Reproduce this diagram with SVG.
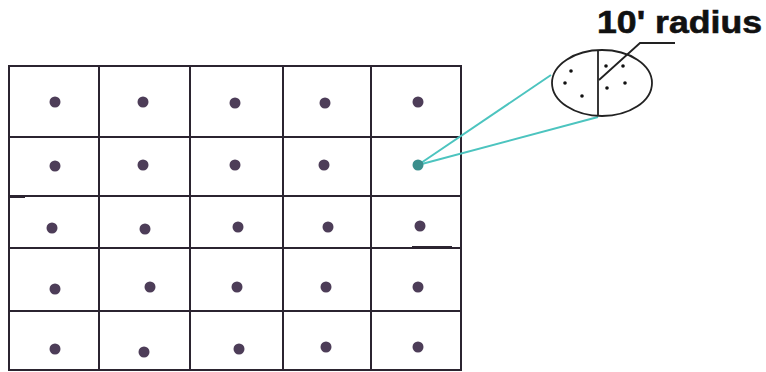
<svg xmlns="http://www.w3.org/2000/svg" width="766" height="372" viewBox="0 0 766 372">
<style>
.g{stroke:#2b2430;stroke-width:2;fill:none}
.d{fill:#4d3d58}
.t{stroke:#4cc4bf;stroke-width:2;fill:none}
.k{stroke:#222;stroke-width:1.8;fill:none}
.s{fill:#111}
.lbl{font-family:"Liberation Sans",Arial,sans-serif;font-weight:bold;font-size:31px;fill:#111;stroke:#111;stroke-width:0.6}
</style>
<rect width="766" height="372" fill="#fff"/>
<g id="grid">
<rect class="g" x="9" y="66" width="452" height="304"/>
<line class="g" x1="99" y1="66" x2="99" y2="370"/>
<line class="g" x1="190" y1="66" x2="190" y2="370"/>
<line class="g" x1="283" y1="66" x2="283" y2="370"/>
<line class="g" x1="371" y1="66" x2="371" y2="370"/>
<line class="g" x1="9" y1="137" x2="461" y2="137"/>
<line class="g" x1="9" y1="196" x2="461" y2="196"/>
<line class="g" x1="9" y1="248" x2="461" y2="248"/>
<line class="g" x1="9" y1="311" x2="461" y2="311"/>
<line class="g" x1="9" y1="197" x2="25" y2="197"/>
<line class="g" x1="412" y1="247" x2="452" y2="247"/>
</g>
<g id="dots">
<circle class="d" cx="55" cy="102" r="5.5"/><circle class="d" cx="143" cy="102" r="5.5"/><circle class="d" cx="235" cy="103" r="5.5"/><circle class="d" cx="325" cy="103" r="5.5"/><circle class="d" cx="418" cy="102" r="5.5"/>
<circle class="d" cx="55" cy="166" r="5.5"/><circle class="d" cx="143" cy="165" r="5.5"/><circle class="d" cx="235" cy="165" r="5.5"/><circle class="d" cx="324" cy="165" r="5.5"/>
<circle class="d" cx="52" cy="228" r="5.5"/><circle class="d" cx="145" cy="229" r="5.5"/><circle class="d" cx="238" cy="227" r="5.5"/><circle class="d" cx="328" cy="227" r="5.5"/><circle class="d" cx="420" cy="226" r="5.5"/>
<circle class="d" cx="55" cy="289" r="5.5"/><circle class="d" cx="150" cy="287" r="5.5"/><circle class="d" cx="237" cy="287" r="5.5"/><circle class="d" cx="326" cy="287" r="5.5"/><circle class="d" cx="418" cy="287" r="5.5"/>
<circle class="d" cx="55" cy="349" r="5.5"/><circle class="d" cx="144" cy="352" r="5.5"/><circle class="d" cx="239" cy="349" r="5.5"/><circle class="d" cx="326" cy="347" r="5.5"/><circle class="d" cx="418" cy="347" r="5.5"/>
</g>
<g id="connectors">
<line class="t" x1="418" y1="165" x2="551" y2="75"/>
<line class="t" x1="418" y1="165" x2="598" y2="117"/>
</g>
<g id="focus-dot">
<circle cx="418" cy="165" r="5.5" fill="#3b8e8c"/>
</g>
<g id="detail">
<ellipse class="k" cx="602" cy="83" rx="50" ry="33"/>
<line class="k" x1="598" y1="50" x2="598" y2="116"/>
<polyline class="k" points="599,80 640,43 675,43"/>
<circle class="s" cx="571" cy="71" r="1.8"/><circle class="s" cx="565" cy="83" r="1.8"/><circle class="s" cx="582" cy="96" r="1.8"/>
<circle class="s" cx="606" cy="66" r="1.8"/><circle class="s" cx="623" cy="66" r="1.8"/><circle class="s" cx="607" cy="88" r="1.8"/><circle class="s" cx="625" cy="83" r="1.8"/>
</g>
<g id="label">
<text class="lbl" x="597" y="33" textLength="165" lengthAdjust="spacingAndGlyphs">10' radius</text>
</g>
</svg>
